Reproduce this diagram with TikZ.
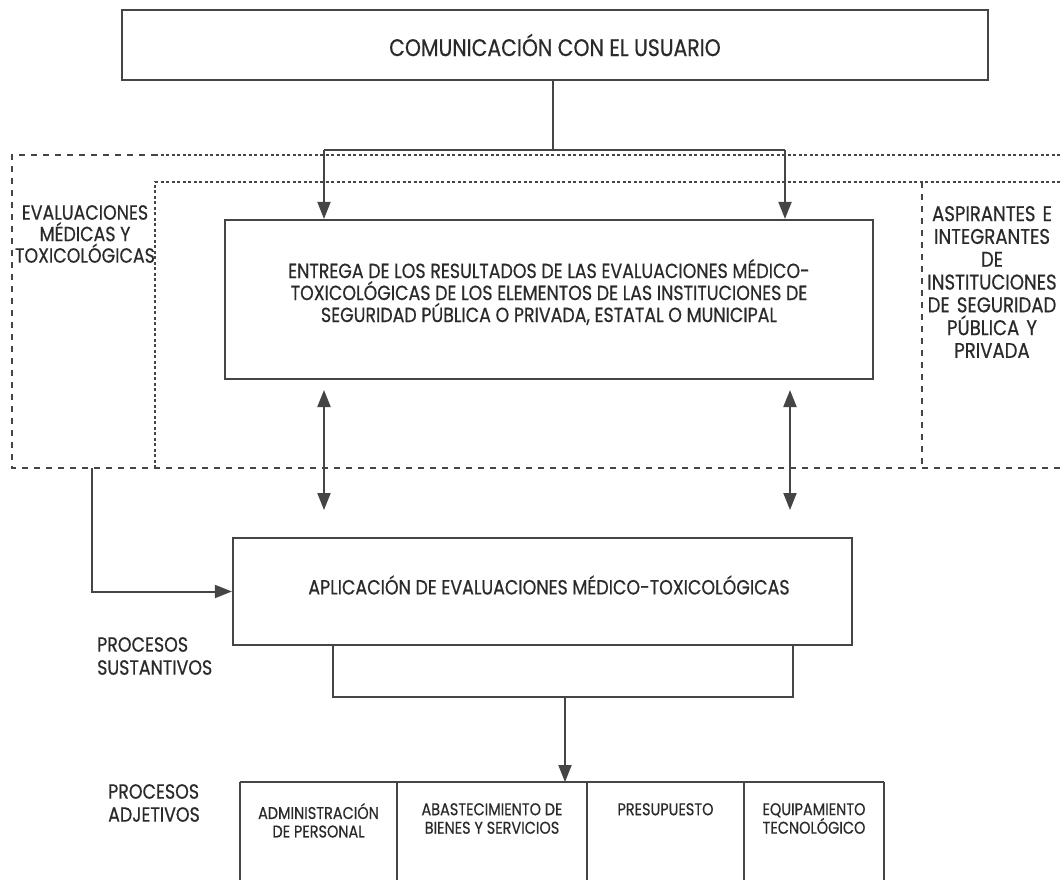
\documentclass[tikz,border=0pt]{standalone}
\usepackage{fontspec}
\setmainfont{Poppins}[FakeStretch=0.85,FakeBold=0.5]
\usetikzlibrary{arrows.meta}
\definecolor{ln}{HTML}{454545}
\definecolor{tx}{HTML}{2A2A2A}
\newcommand\myfs[2]{\fontsize{#1}{#2}\selectfont\lineskiplimit-30pt\relax}
\begin{document}
\begin{tikzpicture}[x=1pt,y=-1pt,
  box/.style={draw=ln,line width=2.2pt,inner sep=0pt},
  txt/.style={text=tx,font={\myfs{20.5}{22}},align=center,inner sep=0pt},
  small/.style={text=tx,font={\myfs{17}{18.5}},align=center,inner sep=0pt},
  side/.style={text=tx,font={\myfs{20.5}{23}},align=left,inner sep=0pt},
  conn/.style={draw=ln,line width=2pt},
  arr/.style={conn,-{Triangle[length=17pt,width=13pt]}},
  darr/.style={conn,{Triangle[length=17pt,width=13pt]}-{Triangle[length=17pt,width=13pt]}},
  dashedline/.style={draw=ln,line width=1.8pt,dash pattern=on 6pt off 6pt},
  dottedline/.style={draw=ln,line width=1.8pt,dash pattern=on 3pt off 2.5pt}]
\fill[white] (0,0) rectangle (1060,880);
\useasboundingbox (0,0) rectangle (1060,880);

% dashed regions
\draw[dashedline] (1060,468) -- (12,468) -- (12,155) -- (155,155);
\draw[dottedline] (155,155) -- (1060,155);
\draw[dottedline] (155,468) -- (155,182) -- (1060,182);
\draw[dashedline] (922,182) -- (922,468);

% top box
\node[box,minimum width=866pt,minimum height=70pt,text=tx,font={\myfs{24}{26}}] (top) at (555,45) {COMUNICACIÓN CON EL USUARIO};

% entrega box
\node[box,minimum width=648pt,minimum height=159pt] (entrega) at (549,299.5) {};
\node[txt] (entregatxt) at (549,292) {ENTREGA DE LOS RESULTADOS DE LAS EVALUACIONES MÉDICO-\\TOXICOLÓGICAS DE LOS ELEMENTOS DE LAS INSTITUCIONES DE\\SEGURIDAD PÚBLICA O PRIVADA, ESTATAL O MUNICIPAL};

% side labels
\node[txt,font={\myfs{20.5}{21.5}}] (evalmed) at (85,234) {EVALUACIONES\\MÉDICAS Y\\TOXICOLÓGICAS};
\node[txt,text width=150pt,font={\myfs{21.3}{22.8}}] (aspir) at (992,282) {ASPIRANTES E\\INTEGRANTES\\DE\\INSTITUCIONES\\DE SEGURIDAD\\PÚBLICA Y\\PRIVADA};

% aplicacion box
\node[box,minimum width=619pt,minimum height=107pt] (apl) at (542.5,591.5) {};
\node[txt] (apltxt) at (549,585) {APLICACIÓN DE EVALUACIONES MÉDICO-TOXICOLÓGICAS};

\node[side,anchor=west] (sust) at (97,656) {PROCESOS\\SUSTANTIVOS};
\node[side,anchor=west] (adj) at (108,803) {PROCESOS\\ADJETIVOS};

% top connectors
\coordinate (bar) at (553,150);
\coordinate (a1) at (324,150);
\coordinate (a2) at (785,150);
\draw[conn] (top.south -| bar) -- (bar);
\draw[conn] (a1) -- (a2);
\draw[arr] (a1) -- (a1 |- entrega.north);
\draw[arr] (a2) -- (a2 |- entrega.north);

% double arrows
\coordinate (d1a) at (324,390);
\coordinate (d1b) at (324,510);
\coordinate (d2a) at (790,390);
\coordinate (d2b) at (790,510);
\draw[darr] (d1a) -- (d1b);
\draw[darr] (d2a) -- (d2b);

% feedback from left region
\coordinate (fb) at (92,468);
\draw[arr] (fb) |- (apl.west);

% bracket below aplicacion
\coordinate (b1) at (333,697);
\coordinate (b2) at (793,697);
\coordinate (bm) at (565,697);
\draw[conn] (apl.south -| b1) -- (b1) -- (b2) -- (apl.south -| b2);

% table
\coordinate (t0) at (240,782);
\coordinate (t1) at (397,782);
\coordinate (t2) at (587,782);
\coordinate (t3) at (744,782);
\coordinate (t4) at (884,782);
\draw[conn,line width=1.5pt] (t0) -- (t4);
\foreach \c in {t0,t1,t2,t3,t4}{\draw[conn,line width=1.5pt] (\c) -- ++(0,100);}
\draw[arr] (bm) -- (bm |- t0);

\node[small,anchor=north] (c1) at (318.5,803) {ADMINISTRACIÓN\\DE PERSONAL};
\node[small,anchor=north] (c2) at (492,803) {ABASTECIMIENTO DE\\BIENES Y SERVICIOS};
\node[small,anchor=north] (c3) at (665.5,803) {PRESUPUESTO};
\node[small,anchor=north] (c4) at (814,803) {EQUIPAMIENTO\\TECNOLÓGICO};
\end{tikzpicture}
\end{document}
